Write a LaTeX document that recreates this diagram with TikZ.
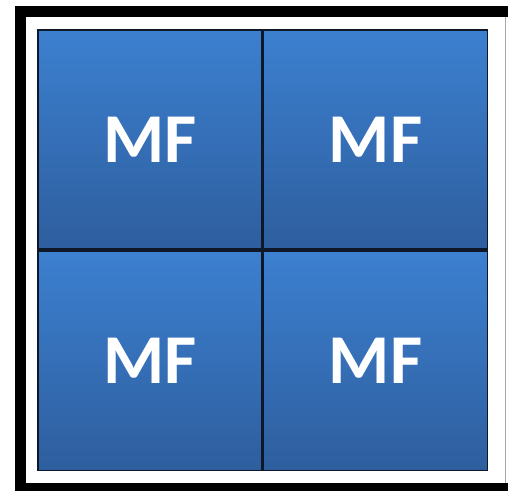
\documentclass[tikz,border=0pt]{standalone}
\usepackage{fontspec}
\setmainfont{Carlito}
\usetikzlibrary{positioning}
\definecolor{celltop}{RGB}{60,128,208}
\definecolor{cellbot}{RGB}{46,94,158}
\definecolor{celledge}{RGB}{14,24,40}

\begin{document}
\begin{tikzpicture}[x=1pt, y=-1pt, node distance=0pt,
    cell/.style={draw=celledge, line width=1.6pt, top color=celltop, bottom color=cellbot,
      minimum width=224pt, minimum height=219.5pt, inner sep=0pt, text=white,
      font=\fontsize{70}{70}\selectfont\bfseries}]
  \useasboundingbox (0,0) rectangle (508,491);
  % frame
  \fill[black] (15,6) rectangle (508,491);
  \fill[white] (26,17) rectangle (508,483);
  \draw[gray!70, line width=0.8pt] (505,17) -- (505,483);
  % cells
  \node[cell] (mfa) at (150,139.5) {MF};
  \node[cell, right=of mfa] (mfb) {MF};
  \node[cell, below=of mfa] (mfc) {MF};
  \node[cell, right=of mfc] (mfd) {MF};
\end{tikzpicture}
\end{document}
